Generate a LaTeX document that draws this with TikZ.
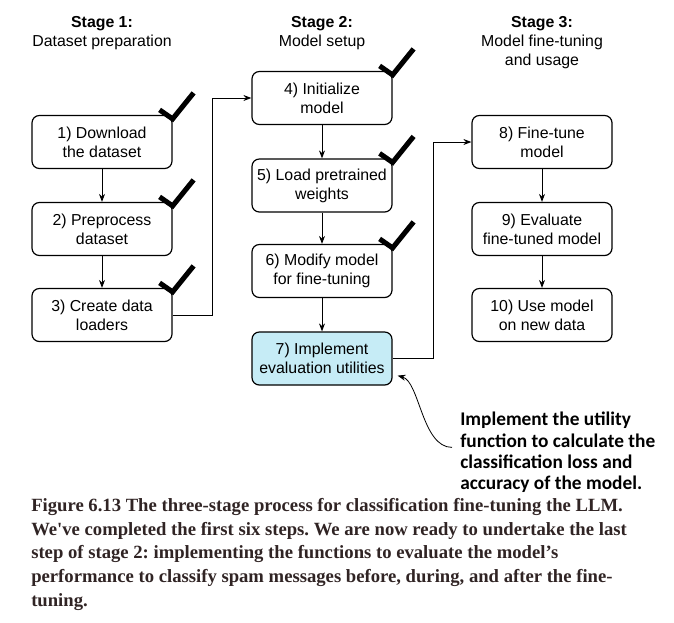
\documentclass[tikz,border=0pt]{standalone}
\usepackage{fontspec}
\setmainfont{Liberation Sans}
\newfontfamily\notefont{Carlito}
\newfontfamily\capfont{Liberation Serif}
\usetikzlibrary{arrows.meta,calc}
\definecolor{evalBlue}{RGB}{198,236,246}
\definecolor{capGray}{RGB}{48,36,36}

\begin{document}
\frenchspacing
\begin{tikzpicture}[x=0.75pt,y=-0.75pt,font=\fontsize{11.9}{14.25}\selectfont,
  bx/.style={draw,line width=0.9pt,rounded corners=5.5pt,minimum width=105pt,minimum height=39.75pt,align=center,inner sep=0pt},
  hd/.style={anchor=north,align=center,inner sep=0pt},
  arr/.style={line width=0.75pt,-{Stealth[length=6pt,width=4.5pt]}},
  chk/.style={line width=3.8pt,line join=miter},
  note/.style={anchor=north west,align=left,inner sep=0pt,font=\notefont\bfseries\fontsize{14.5}{15.9}\selectfont},
  captxt/.style={anchor=north west,align=left,inner sep=0pt,text=capGray,font=\capfont\bfseries\fontsize{14}{17.8}\selectfont}]
  \useasboundingbox (0,0) rectangle (674,622);
  \node[hd] (h1) at (102,16.5) {\textbf{Stage 1:}\\Dataset preparation};
  \node[hd] (h2) at (322,16.5) {\textbf{Stage 2:}\\Model setup};
  \node[hd] (h3) at (542,16.5) {\textbf{Stage 3:}\\Model fine-tuning\\and usage};
  \node[bx] (s1) at (102,142) {1) Download\\the dataset};
  \node[bx] (s2) at (102,229) {2) Preprocess\\dataset};
  \node[bx] (s3) at (102,315) {3) Create data\\loaders};
  \node[bx] (s4) at (322,98) {4) Initialize\\model};
  \node[bx] (s5) at (322,185.5) {5) Load pretrained\\weights};
  \node[bx] (s6) at (322,271) {6) Modify model\\for fine-tuning};
  \node[bx,fill=evalBlue] (s7) at (322,358.5) {7) Implement\\evaluation utilities};
  \node[bx] (s8) at (542,142) {8) Fine-tune\\model};
  \node[bx] (s9) at (542,229) {9) Evaluate\\fine-tuned model};
  \node[bx] (s10) at (542,315) {10) Use model\\on new data};
  \draw[arr] (s1) -- (s2);
  \draw[arr] (s2) -- (s3);
  \draw[arr] (s4) -- (s5);
  \draw[arr] (s5) -- (s6);
  \draw[arr] (s6) -- (s7);
  \draw[arr] (s8) -- (s9);
  \draw[arr] (s9) -- (s10);
  \draw[arr] (s3.east) -- ++(40,0) |- (s4.west);
  \draw[arr] (s7.east) -- ++(41,0) |- (s8.west);
  \foreach \n in {s1,s2,s3,s4,s5,s6}
    \draw[chk] ($(\n.north east)+(-13,-5)$) -- ($(\n.north east)+(0,4)$) -- ($(\n.north east)+(21,-22)$);
  \node[note] (nt) at (460,412) {Implement the utility\\function to calculate the\\classification loss and\\accuracy of the model.};
  \coordinate (ce) at ($(nt.west)+(-8,-5)$);
  \coordinate (ct) at ($(s7.south east)+(5,-10)$);
  \draw[arr,line width=0.6pt] (ce) .. controls +(-30,0) and +(22,6) .. (ct);
  \node[captxt] (cp) at (31,498) {Figure 6.13 The three-stage process for classification fine-tuning the LLM.\\We've completed the first six steps. We are now ready to undertake the last\\step of stage 2: implementing the functions to evaluate the model’s\\performance to classify spam messages before, during, and after the fine-\\tuning.};
\end{tikzpicture}
\end{document}
